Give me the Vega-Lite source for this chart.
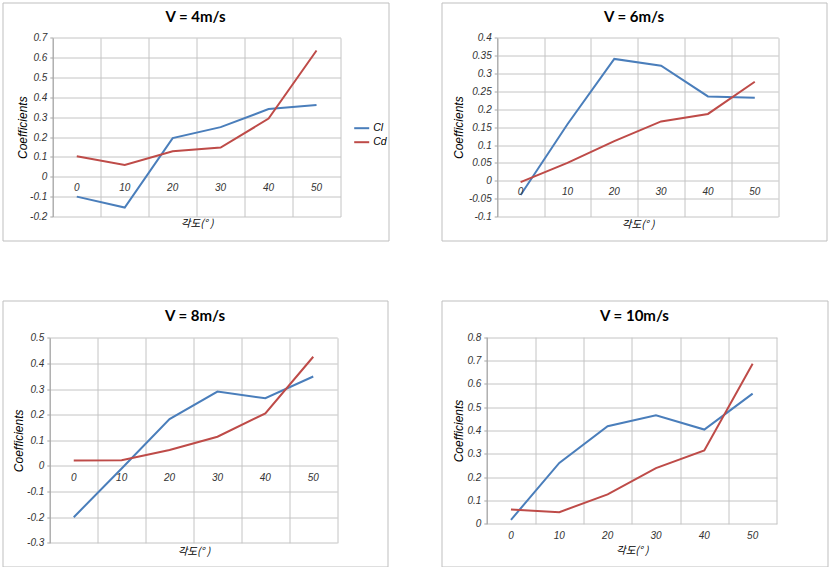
{
  "$schema": "https://vega.github.io/schema/vega-lite/v6.json",
  "background": "white",
  "padding": {"left": 1.5, "top": 1.5, "right": 0, "bottom": 0},
  "bounds": "flush",
  "columns": 2,
  "spacing": {"row": 60, "column": 53},
  "datasets": {
    "v4": [
      {"angle": 0, "series": "Cl", "coef": -0.1},
      {"angle": 10, "series": "Cl", "coef": -0.155},
      {"angle": 20, "series": "Cl", "coef": 0.195},
      {"angle": 30, "series": "Cl", "coef": 0.25},
      {"angle": 40, "series": "Cl", "coef": 0.341},
      {"angle": 50, "series": "Cl", "coef": 0.361},
      {"angle": 0, "series": "Cd", "coef": 0.103},
      {"angle": 10, "series": "Cd", "coef": 0.06},
      {"angle": 20, "series": "Cd", "coef": 0.129},
      {"angle": 30, "series": "Cd", "coef": 0.147},
      {"angle": 40, "series": "Cd", "coef": 0.293},
      {"angle": 50, "series": "Cd", "coef": 0.636}
    ],
    "v6": [
      {"angle": 0, "series": "Cl", "coef": -0.04},
      {"angle": 10, "series": "Cl", "coef": 0.158},
      {"angle": 20, "series": "Cl", "coef": 0.341},
      {"angle": 30, "series": "Cl", "coef": 0.322},
      {"angle": 40, "series": "Cl", "coef": 0.236},
      {"angle": 50, "series": "Cl", "coef": 0.232},
      {"angle": 0, "series": "Cd", "coef": -0.004},
      {"angle": 10, "series": "Cd", "coef": 0.05},
      {"angle": 20, "series": "Cd", "coef": 0.111},
      {"angle": 30, "series": "Cd", "coef": 0.166},
      {"angle": 40, "series": "Cd", "coef": 0.187},
      {"angle": 50, "series": "Cd", "coef": 0.277}
    ],
    "v8": [
      {"angle": 0, "series": "Cl", "coef": -0.2},
      {"angle": 10, "series": "Cl", "coef": -0.01},
      {"angle": 20, "series": "Cl", "coef": 0.183},
      {"angle": 30, "series": "Cl", "coef": 0.29},
      {"angle": 40, "series": "Cl", "coef": 0.264},
      {"angle": 50, "series": "Cl", "coef": 0.349},
      {"angle": 0, "series": "Cd", "coef": 0.021},
      {"angle": 10, "series": "Cd", "coef": 0.022},
      {"angle": 20, "series": "Cd", "coef": 0.062},
      {"angle": 30, "series": "Cd", "coef": 0.114},
      {"angle": 40, "series": "Cd", "coef": 0.205},
      {"angle": 50, "series": "Cd", "coef": 0.426}
    ],
    "v10": [
      {"angle": 0, "series": "Cl", "coef": 0.017},
      {"angle": 10, "series": "Cl", "coef": 0.261},
      {"angle": 20, "series": "Cl", "coef": 0.418},
      {"angle": 30, "series": "Cl", "coef": 0.465},
      {"angle": 40, "series": "Cl", "coef": 0.404},
      {"angle": 50, "series": "Cl", "coef": 0.558},
      {"angle": 0, "series": "Cd", "coef": 0.061},
      {"angle": 10, "series": "Cd", "coef": 0.05},
      {"angle": 20, "series": "Cd", "coef": 0.126},
      {"angle": 30, "series": "Cd", "coef": 0.239},
      {"angle": 40, "series": "Cd", "coef": 0.314},
      {"angle": 50, "series": "Cd", "coef": 0.686}
    ]
  },
  "concat": [
    {
      "width": 386, "height": 238,
      "title": {"text": "V = 4m/s", "offset": -22},
      "data": {"name": "v4"},
      "encoding": {
        "x": {"field": "angle", "type": "quantitative",
          "scale": {"domain": [-5, 55], "range": [50.3, 338], "nice": false, "zero": false},
          "axis": {"orient": "top", "values": [-5, 5, 15, 25, 35, 45, 55], "labels": false, "ticks": false, "domain": false, "grid": true, "title": "각도(° )", "titleY": 221}}
      },
      "layer": [
        {
          "mark": {"type": "line", "strokeWidth": 2},
          "encoding": {
            "y": {"field": "coef", "type": "quantitative",
              "scale": {"domain": [-0.2, 0.7], "range": [214, 35.3], "nice": false, "zero": false},
              "axis": {"values": [-0.2, -0.1, 0, 0.1, 0.2, 0.3, 0.4, 0.5, 0.6, 0.7], "grid": true, "offset": -50.3, "title": "Coefficients", "titleX": -30.6}},
            "color": {"field": "series", "type": "nominal",
              "scale": {"domain": ["Cl", "Cd"], "range": ["#4A7EBB", "#BE4B48"]},
              "legend": {"orient": "none", "legendX": 350.7, "legendY": 117.2, "title": null}}
          }
        },
        {
          "transform": [{"filter": "datum.series == 'Cl'"}],
          "mark": {"type": "text", "dy": 11.5},
          "encoding": {
            "y": {"datum": 0, "type": "quantitative",
              "scale": {"domain": [-0.2, 0.7], "range": [214, 35.3], "nice": false, "zero": false},
              "axis": {"values": [-0.2, -0.1, 0, 0.1, 0.2, 0.3, 0.4, 0.5, 0.6, 0.7], "grid": true, "offset": -50.3, "title": "Coefficients", "titleX": -30.6}},
            "text": {"field": "angle", "type": "quantitative"}
          }
        }
      ]
    },
    {
      "width": 385, "height": 238,
      "title": {"text": "V = 6m/s", "offset": -22},
      "data": {"name": "v6"},
      "encoding": {
        "x": {"field": "angle", "type": "quantitative",
          "scale": {"domain": [-5, 55], "range": [55.7, 336.7], "nice": false, "zero": false},
          "axis": {"orient": "top", "values": [-5, 5, 15, 25, 35, 45, 55], "labels": false, "ticks": false, "domain": false, "grid": true, "title": "각도(° )", "titleY": 222}}
      },
      "layer": [
        {
          "mark": {"type": "line", "strokeWidth": 2},
          "encoding": {
            "y": {"field": "coef", "type": "quantitative",
              "scale": {"domain": [-0.1, 0.4], "range": [214, 35.3], "nice": false, "zero": false},
              "axis": {"values": [-0.1, -0.05, 0, 0.05, 0.1, 0.15, 0.2, 0.25, 0.3, 0.35, 0.4], "grid": true, "offset": -55.7, "title": "Coefficients", "titleX": -38.4}},
            "color": {"field": "series", "type": "nominal",
              "scale": {"domain": ["Cl", "Cd"], "range": ["#4A7EBB", "#BE4B48"]},
              "legend": {"orient": "none", "legendX": 350, "legendY": 116.5, "title": null}}
          }
        },
        {
          "transform": [{"filter": "datum.series == 'Cl'"}],
          "mark": {"type": "text", "dy": 11.7},
          "encoding": {
            "y": {"datum": 0, "type": "quantitative",
              "scale": {"domain": [-0.1, 0.4], "range": [214, 35.3], "nice": false, "zero": false},
              "axis": {"values": [-0.1, -0.05, 0, 0.05, 0.1, 0.15, 0.2, 0.25, 0.3, 0.35, 0.4], "grid": true, "offset": -55.7, "title": "Coefficients", "titleX": -38.4}},
            "text": {"field": "angle", "type": "quantitative"}
          }
        }
      ]
    },
    {
      "width": 385, "height": 266,
      "title": {"text": "V = 8m/s", "offset": -23.7},
      "data": {"name": "v8"},
      "encoding": {
        "x": {"field": "angle", "type": "quantitative",
          "scale": {"domain": [-5, 55], "range": [47.3, 334.7], "nice": false, "zero": false},
          "axis": {"orient": "top", "values": [-5, 5, 15, 25, 35, 45, 55], "labels": false, "ticks": false, "domain": false, "grid": true, "title": "각도(° )", "titleY": 250.7}}
      },
      "layer": [
        {
          "mark": {"type": "line", "strokeWidth": 2},
          "encoding": {
            "y": {"field": "coef", "type": "quantitative",
              "scale": {"domain": [-0.3, 0.5], "range": [242.3, 37.3], "nice": false, "zero": false},
              "axis": {"values": [-0.3, -0.2, -0.1, 0, 0.1, 0.2, 0.3, 0.4, 0.5], "grid": true, "offset": -47.3, "title": "Coefficients", "titleX": -31}},
            "color": {"field": "series", "type": "nominal",
              "scale": {"domain": ["Cl", "Cd"], "range": ["#4A7EBB", "#BE4B48"]},
              "legend": {"orient": "none", "legendX": 348, "legendY": 132.5, "title": null}}
          }
        },
        {
          "transform": [{"filter": "datum.series == 'Cl'"}],
          "mark": {"type": "text", "dy": 12},
          "encoding": {
            "y": {"datum": 0, "type": "quantitative",
              "scale": {"domain": [-0.3, 0.5], "range": [242.3, 37.3], "nice": false, "zero": false},
              "axis": {"values": [-0.3, -0.2, -0.1, 0, 0.1, 0.2, 0.3, 0.4, 0.5], "grid": true, "offset": -47.3, "title": "Coefficients", "titleX": -31}},
            "text": {"field": "angle", "type": "quantitative"}
          }
        }
      ]
    },
    {
      "width": 386, "height": 266,
      "title": {"text": "V = 10m/s", "offset": -23.3},
      "data": {"name": "v10"},
      "encoding": {
        "x": {"field": "angle", "type": "quantitative",
          "scale": {"domain": [-5, 55], "range": [45.3, 335.3], "nice": false, "zero": false},
          "axis": {"orient": "top", "values": [-5, 5, 15, 25, 35, 45, 55], "labels": false, "ticks": false, "domain": false, "grid": true, "title": "각도(° )", "titleY": 250}}
      },
      "layer": [
        {
          "mark": {"type": "line", "strokeWidth": 2},
          "encoding": {
            "y": {"field": "coef", "type": "quantitative",
              "scale": {"domain": [0, 0.8], "range": [223.3, 36.7], "nice": false, "zero": false},
              "axis": {"values": [0, 0.1, 0.2, 0.3, 0.4, 0.5, 0.6, 0.7, 0.8], "grid": true, "offset": -45.3, "title": "Coefficients", "titleX": -28.3}},
            "color": {"field": "series", "type": "nominal",
              "scale": {"domain": ["Cl", "Cd"], "range": ["#4A7EBB", "#BE4B48"]},
              "legend": {"orient": "none", "legendX": 349, "legendY": 130.5, "title": null}}
          }
        },
        {
          "transform": [{"filter": "datum.series == 'Cl'"}],
          "mark": {"type": "text", "dy": 11.7},
          "encoding": {
            "y": {"datum": 0, "type": "quantitative",
              "scale": {"domain": [0, 0.8], "range": [223.3, 36.7], "nice": false, "zero": false},
              "axis": {"values": [0, 0.1, 0.2, 0.3, 0.4, 0.5, 0.6, 0.7, 0.8], "grid": true, "offset": -45.3, "title": "Coefficients", "titleX": -28.3}},
            "text": {"field": "angle", "type": "quantitative"}
          }
        }
      ]
    }
  ],
  "config": {
    "view": {"stroke": "#BFBFBF", "strokeWidth": 1},
    "title": {"font": "Lato", "fontSize": 15, "fontWeight": "bold", "color": "#000000", "baseline": "middle", "anchor": "middle", "frame": "group"},
    "axis": {
      "gridColor": "#C4C4C4", "gridWidth": 1, "gridOpacity": 1,
      "domainColor": "#A6A6A6", "tickColor": "#A6A6A6", "tickSize": 3,
      "labelFont": "Liberation Sans", "labelFontStyle": "italic", "labelFontSize": 10, "labelColor": "#333333", "labelPadding": 3,
      "labelOverlap": false, "labelExpr": "'' + datum.value",
      "titleFont": "Liberation Sans", "titleFontStyle": "italic", "titleFontSize": 12, "titleFontWeight": "normal", "titleColor": "#000000",
      "titleBaseline": "middle"
    },
    "axisX": {"titleFont": "Noto Sans CJK KR", "titleFontSize": 10.5},
    "text": {"font": "Liberation Sans", "fontStyle": "italic", "fontSize": 10, "color": "#333333", "baseline": "middle", "align": "center"},
    "legend": {
      "symbolType": "stroke", "symbolSize": 225, "symbolStrokeWidth": 2, "labelFont": "Liberation Sans", "labelFontStyle": "italic", "labelFontSize": 10.5, "labelColor": "#000000", "labelOffset": 3, "rowPadding": 0, "padding": 0
    }
  }
}
